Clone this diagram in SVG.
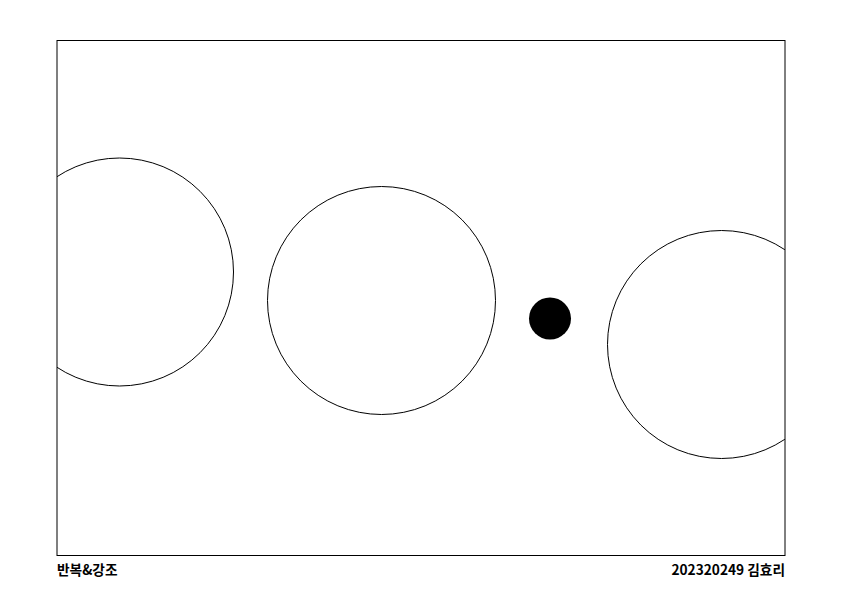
<svg xmlns="http://www.w3.org/2000/svg" width="843" height="597" viewBox="0 0 843 597">
<style>
.ring{fill:none;stroke:#000;stroke-width:1}
.lbl{font-family:"Noto Sans CJK KR","Noto Sans",sans-serif;font-weight:700;font-size:13.7px;fill:#000}
</style>
<defs>
<clipPath id="frameClip"><rect x="57" y="40.5" width="728" height="515"/></clipPath>
</defs>
<rect x="0" y="0" width="843" height="597" fill="#fff"/>
<g clip-path="url(#frameClip)">
<g id="circle-left"><circle class="ring" cx="119.5" cy="272" r="114"/></g>
<g id="circle-middle"><circle class="ring" cx="381.5" cy="300.5" r="114"/></g>
<g id="dot"><circle cx="550" cy="318.5" r="21" fill="#000"/></g>
<g id="circle-right"><circle class="ring" cx="721.5" cy="344.5" r="114"/></g>
</g>
<g id="frame"><rect x="57" y="40.5" width="728" height="515" fill="none" stroke="#000" stroke-width="1"/></g>
<g id="connectors"></g>
<text class="lbl" x="57" y="574.5">반복&amp;강조</text>
<text class="lbl" x="785" y="574.5" text-anchor="end">202320249 김효리</text>
</svg>
